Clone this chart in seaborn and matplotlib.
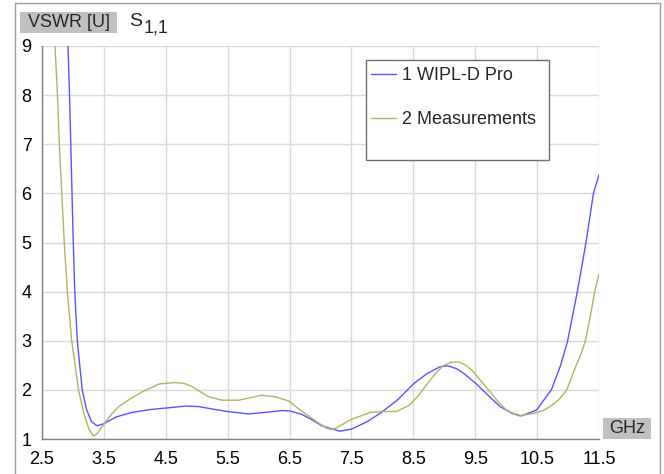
import matplotlib

matplotlib.use("Agg")

import matplotlib.pyplot as plt
import pandas as pd
import seaborn as sns
from matplotlib.patches import Rectangle

sns.set_theme(style="white")
plt.rcParams["font.family"] = ["Liberation Sans", "DejaVu Sans"]

# values (GHz, VSWR)
wipl_freq = [
    2.88, 2.92, 2.945, 2.965, 2.985, 3.005, 3.03, 3.07, 3.15, 3.22, 3.3, 3.39,
    3.5, 3.7, 3.95, 4.25, 4.5, 4.82, 5.03, 5.3, 5.49, 5.84, 6.1, 6.38, 6.51,
    6.7, 6.85, 7.02, 7.2, 7.31, 7.5, 7.75, 7.96, 8.25, 8.5, 8.72, 8.93, 9.06,
    9.2, 9.31, 9.51, 9.7, 9.9, 10.1, 10.25, 10.49, 10.73, 10.88, 10.99, 11.15,
    11.29, 11.41, 11.5,
]
wipl_vswr = [
    10.0, 9.0, 8.0, 7.0, 6.0, 5.0, 4.0, 3.0, 2.0, 1.6, 1.35, 1.27,
    1.31, 1.45, 1.54, 1.6, 1.63, 1.67, 1.66, 1.6, 1.56, 1.51, 1.54, 1.58, 1.57,
    1.5, 1.4, 1.27, 1.2, 1.16, 1.2, 1.35, 1.52, 1.8, 2.12, 2.33, 2.47, 2.49,
    2.43, 2.34, 2.13, 1.9, 1.66, 1.52, 1.47, 1.59, 2.0, 2.5, 2.98, 4.0,
    5.0, 6.0, 6.38,
]

meas_freq = [
    2.66, 2.71, 2.75, 2.78, 2.82, 2.86, 2.91, 2.98, 3.09, 3.18, 3.26, 3.33,
    3.4, 3.5, 3.62, 3.74, 3.93, 4.12, 4.39, 4.65, 4.8, 4.92, 5.05, 5.19, 5.41,
    5.68, 5.9, 6.05, 6.27, 6.49, 6.62, 6.75, 6.95, 7.1, 7.2, 7.32, 7.48, 7.65,
    7.8, 8.0, 8.23, 8.44, 8.58, 8.71, 8.85, 8.98, 9.1, 9.23, 9.35, 9.47, 9.6,
    9.74, 9.87, 10.0, 10.2, 10.44, 10.6, 10.71, 10.85, 10.98, 11.1, 11.2,
    11.28, 11.36, 11.43, 11.5,
]
meas_vswr = [
    10.2, 9.0, 8.0, 7.0, 6.0, 5.0, 4.0, 3.0, 2.0, 1.5, 1.2, 1.06,
    1.12, 1.3, 1.5, 1.66, 1.82, 1.96, 2.12, 2.15, 2.13, 2.07, 1.97, 1.86, 1.79,
    1.79, 1.85, 1.89, 1.86, 1.77, 1.64, 1.52, 1.34, 1.22, 1.19, 1.27, 1.39, 1.47,
    1.54, 1.56, 1.56, 1.69, 1.88, 2.1, 2.32, 2.49, 2.56, 2.57, 2.5, 2.37, 2.17,
    1.96, 1.76, 1.59, 1.47, 1.52, 1.58, 1.66, 1.8, 2.0, 2.4, 2.7,
    3.0, 3.5, 4.0, 4.36,
]

x_ticks = [2.5, 3.5, 4.5, 5.5, 6.5, 7.5, 8.5, 9.5, 10.5, 11.5]
y_ticks = [1, 2, 3, 4, 5, 6, 7, 8, 9]

BLUE = "#5555ff"
OLIVE = "#b4b06a"
SPINE = "#808080"
FS = 13

W, H = 664, 474


def fx(px):
    return px / W


def fy(py):
    return 1 - py / H


df = pd.concat(
    [
        pd.DataFrame({"f": wipl_freq, "v": wipl_vswr, "s": "1 WIPL-D Pro"}),
        pd.DataFrame({"f": meas_freq, "v": meas_vswr, "s": "2 Measurements"}),
    ],
    ignore_index=True,
)

fig = plt.figure(figsize=(6.64, 4.74), dpi=100)
ax = fig.add_axes([fx(42), fy(439), (599 - 42) / W, (439 - 46) / H])

sns.lineplot(
    df,
    x="f",
    y="v",
    hue="s",
    palette={"1 WIPL-D Pro": BLUE, "2 Measurements": OLIVE},
    sort=False,
    estimator=None,
    linewidth=1.0,
    ax=ax,
)

ax.set_xlim(2.5, 11.5)
ax.set_ylim(1, 9)
ax.set_xticks(x_ticks)
ax.set_xticklabels([f"{t:g}" for t in x_ticks])
ax.set_yticks(y_ticks)
ax.set_xlabel("")
ax.set_ylabel("")
ax.grid(True, color="#d9d9d9", linewidth=1.0)
ax.set_axisbelow(True)
for side in ["top", "right"]:
    ax.spines[side].set_visible(False)
for side in ["left", "bottom"]:
    ax.spines[side].set_color(SPINE)
    ax.spines[side].set_linewidth(1.0)
ax.tick_params(
    axis="both", direction="out", length=4, width=1, color=SPINE,
    labelsize=FS, labelcolor="black",
)
ax.tick_params(axis="x", pad=5)
ax.tick_params(axis="y", pad=3.5)

# legend box (white, covers grid) and entries
ax.add_patch(
    Rectangle(
        (fx(366), fy(160)), (549 - 366) / W, 100 / H,
        transform=fig.transFigure, facecolor="white", edgecolor="#707070",
        linewidth=1.0, zorder=3, clip_on=False,
    )
)
leg = ax.legend(
    loc="upper left",
    bbox_to_anchor=(fx(371), fy(67)),
    bbox_transform=fig.transFigure,
    frameon=False,
    fontsize=FS,
    handlelength=1.4,
    handletextpad=0.3,
    labelspacing=1.5,
    borderpad=0,
    borderaxespad=0,
)
leg.set_zorder(5)

# outer frame
fig.patches.append(
    Rectangle(
        (fx(15), -0.01), (660 - 15) / W, 1.01 - 3 / H,
        transform=fig.transFigure, facecolor="none", edgecolor="#a0a0a0",
        linewidth=1.0,
    )
)

# grey label boxes
fig.patches.append(
    Rectangle((fx(20), fy(33)), 97 / W, 21 / H, transform=fig.transFigure,
              facecolor="#c0c0c0", edgecolor="none")
)
fig.text(fx(68.5), fy(22.5), "VSWR [U]", ha="center", va="center", fontsize=FS)
fig.text(fx(129), fy(21), "S", ha="left", va="center", fontsize=14)
fig.text(fx(144), fy(28), "1,1", ha="left", va="center", fontsize=FS)

fig.patches.append(
    Rectangle((fx(603), fy(439)), 48 / W, 21 / H, transform=fig.transFigure,
              facecolor="#c0c0c0", edgecolor="none")
)
fig.text(fx(627), fy(428.5), "GHz", ha="center", va="center", fontsize=FS)

fig.savefig("out.png", dpi=100)
plt.close(fig)
